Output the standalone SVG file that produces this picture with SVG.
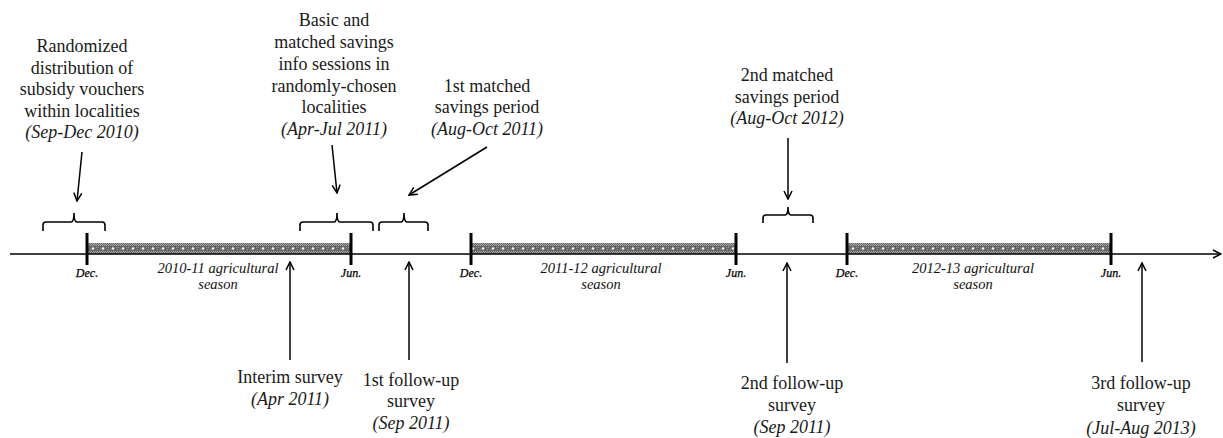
<svg xmlns="http://www.w3.org/2000/svg" width="1223" height="438" viewBox="0 0 1223 438">
<style>
text{font-family:'Liberation Serif','Times New Roman','DejaVu Serif',serif}
.t{font-size:18px;fill:#1a1a1a;text-anchor:middle}
.i{font-style:italic}
.m{font-size:12px;font-style:italic;fill:#000;stroke:#000;stroke-width:0.25;text-anchor:middle}
.s{font-size:14.5px;font-style:italic;fill:#111;text-anchor:middle}
.ln{stroke:#000;stroke-width:1.5;fill:none}
.tick{stroke:#000;stroke-width:3}
.br{stroke:#000;stroke-width:1.6;fill:none}
.bar{fill:url(#hatch)}
</style>
<defs>
<pattern id="hatch" x="88" y="243" width="10" height="11" patternUnits="userSpaceOnUse">
<rect width="10" height="11" fill="#666"/>
<path d="M0,0h1v1h-1zM2,0h1v1h-1zM4,0h1v1h-1zM6,0h1v1h-1zM8,0h1v1h-1zM1,1h1v1h-1zM3,1h1v1h-1zM5,1h1v1h-1zM7,1h1v1h-1zM9,1h1v1h-1zM0,2h1v1h-1zM2,2h1v1h-1zM4,2h1v1h-1zM6,2h1v1h-1zM8,2h1v1h-1zM1,8h1v1h-1zM3,8h1v1h-1zM5,8h1v1h-1zM7,8h1v1h-1zM9,8h1v1h-1zM0,9h1v1h-1zM2,9h1v1h-1zM4,9h1v1h-1zM6,9h1v1h-1zM8,9h1v1h-1zM1,10h1v1h-1zM3,10h1v1h-1zM5,10h1v1h-1zM7,10h1v1h-1zM9,10h1v1h-1z" fill="#a8a8a8"/>
<path d="M0,4h1v1h-1zM2,6h1v1h-1zM8,4h1v1h-1zM9,6h1v1h-1z" fill="#9a9a9a"/>
<circle cx="5" cy="5.5" r="1.3" fill="#f4f4f4"/>
</pattern>
<marker id="ah" viewBox="0 0 10 10" refX="9" refY="5" markerWidth="10" markerHeight="10" markerUnits="userSpaceOnUse" orient="auto">
<path d="M1,1 L9,5 L1,9" fill="none" stroke="#000" stroke-width="1.5"/>
</marker>
</defs>

<g id="timeline">
<rect class="bar" x="88" y="243" width="263" height="11"/>
<rect class="bar" x="471" y="243" width="265" height="11"/>
<rect class="bar" x="848" y="243" width="263" height="11"/>
<line class="ln" x1="10" y1="254" x2="1221" y2="254" marker-end="url(#ah)"/>
<line class="tick" x1="87" y1="233" x2="87" y2="265"/>
<line class="tick" x1="351" y1="233" x2="351" y2="265"/>
<line class="tick" x1="471" y1="233" x2="471" y2="265"/>
<line class="tick" x1="736" y1="233" x2="736" y2="265"/>
<line class="tick" x1="847" y1="233" x2="847" y2="265"/>
<line class="tick" x1="1111" y1="233" x2="1111" y2="265"/>
<text class="m" x="87" y="277">Dec.</text>
<text class="m" x="351" y="277">Jun.</text>
<text class="m" x="471" y="277">Dec.</text>
<text class="m" x="736" y="277">Jun.</text>
<text class="m" x="847" y="277">Dec.</text>
<text class="m" x="1111" y="277">Jun.</text>
<text class="s" x="218" y="273">2010-11 agricultural<tspan x="218" y="289">season</tspan></text>
<text class="s" x="601" y="273">2011-12 agricultural<tspan x="601" y="289">season</tspan></text>
<text class="s" x="973" y="273">2012-13 agricultural<tspan x="973" y="289">season</tspan></text>
</g>

<g id="brackets">
<path class="br" d="M43,231 L43,225 Q43,222 46,222 L71,222 Q74,222 74,213 Q74,222 77,222 L102,222 Q105,222 105,225 L105,231"/>
<path class="br" d="M300,231 L300,225 Q300,222 303,222 L334,222 Q337,222 337,213 Q337,222 340,222 L370,222 Q373,222 373,225 L373,231"/>
<path class="br" d="M379,231 L379,225 Q379,222 382,222 L401,222 Q404,222 404,213 Q404,222 407,222 L425,222 Q428,222 428,225 L428,231"/>
<path class="br" d="M763,223 L763,218 Q763,215 766,215 L785,215 Q788,215 788,207 Q788,215 791,215 L810,215 Q813,215 813,218 L813,223"/>
</g>

<g id="connectors">
<line class="ln" x1="82" y1="152" x2="77" y2="201" marker-end="url(#ah)"/>
<line class="ln" x1="332" y1="145" x2="337" y2="193" marker-end="url(#ah)"/>
<line class="ln" x1="487" y1="147" x2="409" y2="195" marker-end="url(#ah)"/>
<line class="ln" x1="788" y1="138" x2="788" y2="199" marker-end="url(#ah)"/>
<line class="ln" x1="290" y1="360" x2="290" y2="262" marker-end="url(#ah)"/>
<line class="ln" x1="409" y1="360" x2="409" y2="262" marker-end="url(#ah)"/>
<line class="ln" x1="787" y1="363" x2="787" y2="263" marker-end="url(#ah)"/>
<line class="ln" x1="1142" y1="362" x2="1142" y2="263" marker-end="url(#ah)"/>
</g>

<g id="vouchers">
<text class="t" x="82" y="52">Randomized</text>
<text class="t" x="82" y="73.5">distribution of</text>
<text class="t" x="82" y="95">subsidy vouchers</text>
<text class="t" x="82" y="116.5">within localities</text>
<text class="t i" x="82" y="138">(Sep-Dec 2010)</text>
</g>

<g id="info-sessions">
<text class="t" x="334" y="26">Basic and</text>
<text class="t" x="334" y="48">matched savings</text>
<text class="t" x="334" y="70">info sessions in</text>
<text class="t" x="334" y="92">randomly-chosen</text>
<text class="t" x="334" y="113">localities</text>
<text class="t i" x="334" y="135">(Apr-Jul 2011)</text>
</g>

<g id="matched-1">
<text class="t" x="487" y="92">1st matched</text>
<text class="t" x="487" y="113">savings period</text>
<text class="t i" x="487" y="135">(Aug-Oct 2011)</text>
</g>

<g id="matched-2">
<text class="t" x="787" y="81">2nd matched</text>
<text class="t" x="787" y="103">savings period</text>
<text class="t i" x="787" y="124">(Aug-Oct 2012)</text>
</g>

<g id="interim">
<text class="t" x="290" y="383">Interim survey</text>
<text class="t i" x="290" y="405">(Apr 2011)</text>
</g>

<g id="followup-1">
<text class="t" x="411" y="386">1st follow-up</text>
<text class="t" x="411" y="407">survey</text>
<text class="t i" x="411" y="429">(Sep 2011)</text>
</g>

<g id="followup-2">
<text class="t" x="792" y="389">2nd follow-up</text>
<text class="t" x="792" y="411">survey</text>
<text class="t i" x="792" y="433">(Sep 2011)</text>
</g>

<g id="followup-3">
<text class="t" x="1141" y="389">3rd follow-up</text>
<text class="t" x="1141" y="411">survey</text>
<text class="t i" x="1141" y="434">(Jul-Aug 2013)</text>
</g>
</svg>
